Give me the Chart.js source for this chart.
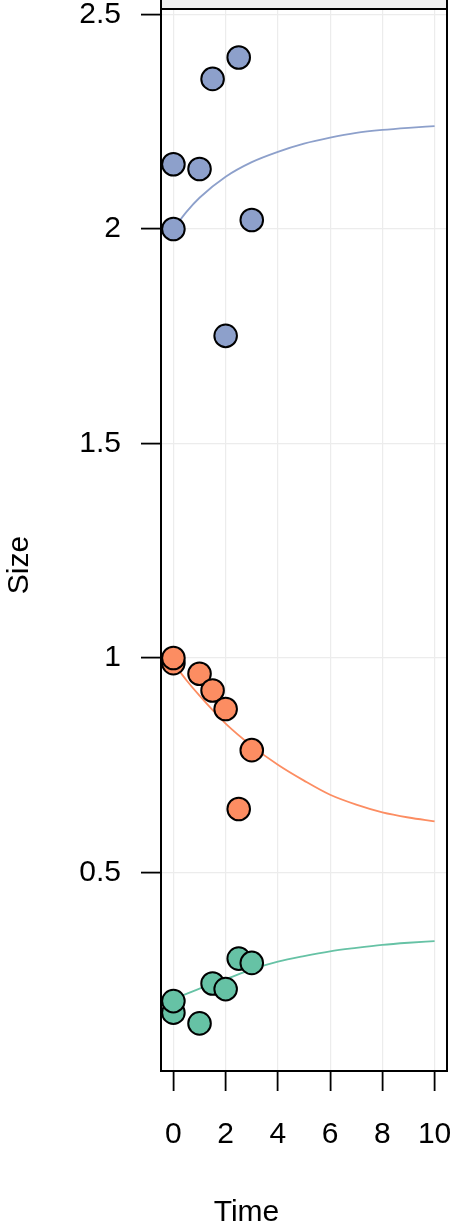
<!DOCTYPE html>
<html>
<head>
<meta charset="utf-8">
<script src="https://cdn.jsdelivr.net/npm/chart.js@4"></script>
<style>
  body { margin: 0; background: #fff; }
  canvas { display: block; }
</style>
</head>
<body>
<canvas id="myChart" width="453" height="1230"></canvas>
<script>
// observed points
const obsTime = [0, 0, 1, 1.5, 2, 2.5, 3];
const sizeHigh = [2.151, 2.0, 2.140, 2.350, 1.751, 2.400, 2.021];
const sizeMid = [0.988, 1.0, 0.963, 0.924, 0.881, 0.648, 0.785];
const sizeLow = [0.173, 0.2, 0.148, 0.241, 0.228, 0.299, 0.289];

// fitted curves
const fitTime = [0, 0.5, 1, 2, 3, 4, 5, 6, 7, 8, 9, 10];
const fitHigh = [2.0, 2.040, 2.073, 2.122, 2.156, 2.180, 2.199, 2.213, 2.224, 2.231, 2.236, 2.240];
const fitMid = [0.988, 0.948, 0.912, 0.847, 0.795, 0.751, 0.714, 0.681, 0.658, 0.640, 0.628, 0.619];
const fitLow = [0.205, 0.217, 0.229, 0.251, 0.274, 0.292, 0.305, 0.316, 0.324, 0.331, 0.336, 0.340];

const xTicks = [0, 2, 4, 6, 8, 10];
const yTicks = [0.5, 1, 1.5, 2, 2.5];

const colors = ['#8da0cb', '#fc8d62', '#66c2a5'];
const font = '"Liberation Sans", Arial, Helvetica, sans-serif';

function pts(xs, ys) {
  return xs.map((x, i) => ({ x: x, y: ys[i] }));
}

function pointSet(ys, color) {
  return {
    data: pts(obsTime, ys),
    backgroundColor: color,
    borderColor: '#000',
    borderWidth: 2,
    pointRadius: 11.3,
    order: 0
  };
}

function fitSet(ys, color) {
  return {
    data: pts(fitTime, ys),
    showLine: true,
    borderColor: color,
    borderWidth: 1.8,
    pointRadius: 0,
    cubicInterpolationMode: 'monotone',
    order: 1
  };
}

const frame = {
  id: 'frame',
  afterDraw(chart) {
    const { ctx, chartArea: a } = chart;
    ctx.save();
    ctx.fillStyle = '#f0f0f0';
    ctx.fillRect(a.left, 0, a.right - a.left, a.top);
    ctx.strokeStyle = '#000';
    ctx.lineWidth = 2;
    ctx.strokeRect(a.left, a.top, a.right - a.left, a.bottom - a.top);
    ctx.beginPath();
    ctx.moveTo(a.left, 0); ctx.lineTo(a.left, a.top);
    ctx.moveTo(a.right, 0); ctx.lineTo(a.right, a.top);
    ctx.stroke();

    ctx.fillStyle = '#000';
    ctx.font = '30px ' + font;
    ctx.textAlign = 'center';
    ctx.textBaseline = 'middle';
    ctx.fillText('Time', 246.5, 1212.5);
    ctx.translate(19.5, 565);
    ctx.rotate(-Math.PI / 2);
    ctx.fillText('Size', 0, 0);
    ctx.restore();
  }
};

const ctx = document.getElementById('myChart');

new Chart(ctx, {
  type: 'scatter',
  data: {
    datasets: [
      pointSet(sizeHigh, colors[0]),
      pointSet(sizeMid, colors[1]),
      pointSet(sizeLow, colors[2]),
      fitSet(fitHigh, colors[0]),
      fitSet(fitMid, colors[1]),
      fitSet(fitLow, colors[2])
    ]
  },
  options: {
    responsive: false,
    animation: false,
    layout: { autoPadding: false, padding: { top: 9, right: 6, left: 0, bottom: 0 } },
    plugins: {
      legend: { display: false },
      tooltip: { enabled: false }
    },
    scales: {
      x: {
        type: 'linear',
        min: -0.475,
        max: 10.475,
        afterBuildTicks: s => { s.ticks = xTicks.map(v => ({ value: v })); },
        afterFit: s => { s.height = 159; s.paddingLeft = 0; s.paddingRight = 0; },
        ticks: {
          color: '#000',
          font: { family: font, size: 30 },
          padding: 26,
          maxRotation: 0,
          autoSkip: false,
          callback: v => String(v)
        },
        grid: {
          color: '#ececec',
          lineWidth: 1.2,
          tickColor: '#000',
          tickWidth: 1.8,
          tickLength: 20
        },
        border: { display: false }
      },
      y: {
        type: 'linear',
        min: 0.037,
        max: 2.513,
        afterBuildTicks: s => { s.ticks = yTicks.map(v => ({ value: v })); },
        afterFit: s => { s.width = 161; s.paddingTop = 0; s.paddingBottom = 0; },
        ticks: {
          color: '#000',
          font: { family: font, size: 30 },
          padding: 20,
          autoSkip: false,
          callback: v => String(v)
        },
        grid: {
          color: '#ececec',
          lineWidth: 1.2,
          tickColor: '#000',
          tickWidth: 1.8,
          tickLength: 20
        },
        border: { display: false }
      }
    }
  },
  plugins: [frame]
});
</script>
</body>
</html>
